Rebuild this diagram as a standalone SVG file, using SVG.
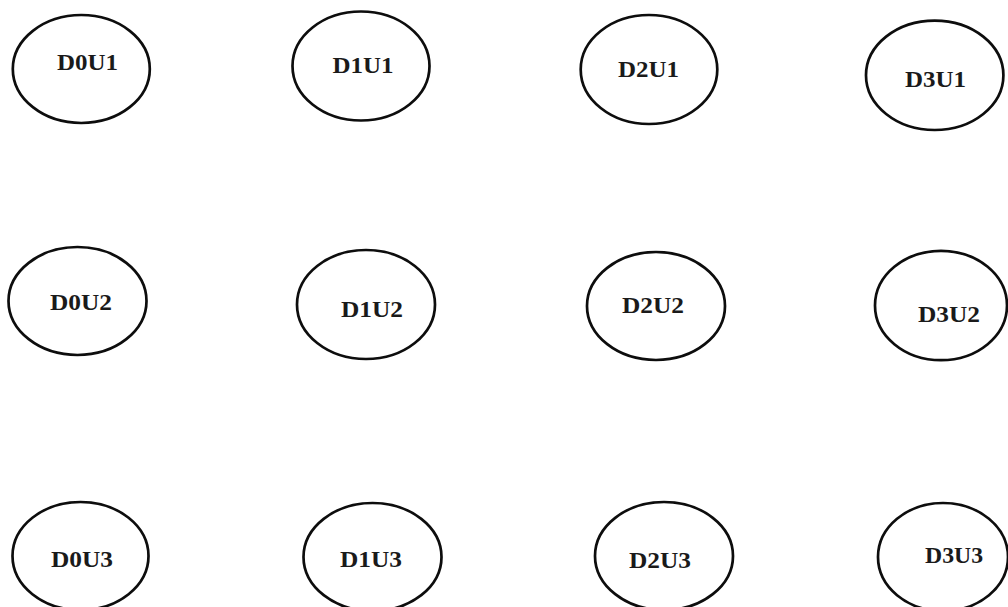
<svg xmlns="http://www.w3.org/2000/svg" width="1008" height="607" viewBox="0 0 1008 607">
<style>
.n ellipse{fill:#fff;stroke:#0d0d0d;stroke-width:2.7}
.n text{font-family:"Liberation Serif","Times New Roman",serif;font-weight:bold;font-size:24px;fill:#1a1a1a;text-anchor:middle}
</style>
<rect width="1008" height="607" fill="#fff"/>
<g id="connectors"/>
<g id="D0U1" class="n"><ellipse cx="81.3" cy="69" rx="68.5" ry="54"/><text x="87.5" y="69.5" textLength="61" lengthAdjust="spacingAndGlyphs">D0U1</text></g>
<g id="D1U1" class="n"><ellipse cx="361" cy="66" rx="68.5" ry="54.5"/><text x="363" y="73" textLength="61" lengthAdjust="spacingAndGlyphs">D1U1</text></g>
<g id="D2U1" class="n"><ellipse cx="649" cy="69.5" rx="68.3" ry="54.5"/><text x="648.5" y="77" textLength="61" lengthAdjust="spacingAndGlyphs">D2U1</text></g>
<g id="D3U1" class="n"><ellipse cx="934.7" cy="75.3" rx="68.7" ry="54.7"/><text x="935.5" y="87" textLength="61" lengthAdjust="spacingAndGlyphs">D3U1</text></g>
<g id="D0U2" class="n"><ellipse cx="77.5" cy="301" rx="69" ry="54"/><text x="81" y="310" textLength="62" lengthAdjust="spacingAndGlyphs">D0U2</text></g>
<g id="D1U2" class="n"><ellipse cx="366" cy="304.5" rx="69" ry="54.5"/><text x="372" y="317" textLength="62" lengthAdjust="spacingAndGlyphs">D1U2</text></g>
<g id="D2U2" class="n"><ellipse cx="656" cy="306" rx="69" ry="54"/><text x="653" y="313" textLength="62" lengthAdjust="spacingAndGlyphs">D2U2</text></g>
<g id="D3U2" class="n"><ellipse cx="941" cy="305.5" rx="66" ry="54.7"/><text x="949" y="321.5" textLength="62" lengthAdjust="spacingAndGlyphs">D3U2</text></g>
<g id="D0U3" class="n"><ellipse cx="80.5" cy="556" rx="68" ry="54"/><text x="82" y="567" textLength="62" lengthAdjust="spacingAndGlyphs">D0U3</text></g>
<g id="D1U3" class="n"><ellipse cx="372.5" cy="557" rx="69" ry="54"/><text x="371" y="567" textLength="62" lengthAdjust="spacingAndGlyphs">D1U3</text></g>
<g id="D2U3" class="n"><ellipse cx="664" cy="556" rx="69" ry="54"/><text x="660" y="568" textLength="62" lengthAdjust="spacingAndGlyphs">D2U3</text></g>
<g id="D3U3" class="n"><ellipse cx="943" cy="557" rx="65" ry="54"/><text x="954" y="563" textLength="58" lengthAdjust="spacingAndGlyphs">D3U3</text></g>
</svg>
